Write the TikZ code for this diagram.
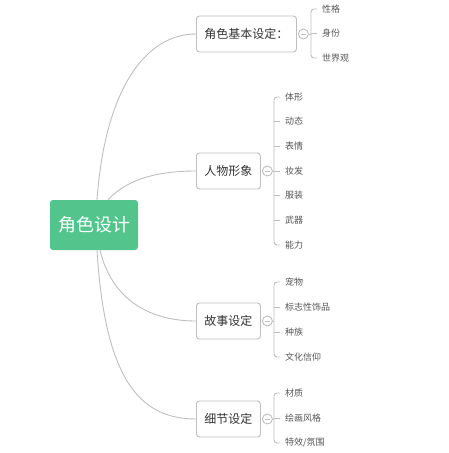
\documentclass[tikz,border=0pt]{standalone}
\usepackage{fontspec}
\setmainfont{Noto Sans CJK SC}
\usetikzlibrary{positioning}
\definecolor{rootgreen}{HTML}{52C48C}
\definecolor{linegray}{HTML}{BEBEBE}
\definecolor{textgray}{HTML}{333333}
\definecolor{leafgray}{HTML}{555555}
\tikzset{
	root/.style={fill=rootgreen, rounded corners=3pt, text=white, minimum width=88pt, minimum height=50pt, font=\fontsize{18}{18}\selectfont},
	branch/.style={draw=linegray, line width=0.9pt, rounded corners=3pt, fill=white, text=textgray, minimum height=36pt, inner xsep=8pt, anchor=west, font=\fontsize{12}{12}\selectfont},
	leaf/.style={text=leafgray, anchor=west, inner xsep=5pt, inner ysep=1pt, font=\fontsize{9}{9}\selectfont},
	link/.style={draw=linegray, line width=0.9pt},
	toggle/.style={circle, draw=linegray, line width=0.9pt, minimum size=10pt, inner sep=0pt, fill=white}
}
\begin{document}
\begin{tikzpicture}[x=1pt, y=-1pt]
	\useasboundingbox (0,0) rectangle (449,453);
	
	\node[root] (root) at (94,225) {角色设计};
	
	% Branches
	\node[branch] (b1) at (196,34) {角色基本设定：};
	\node[branch] (b2) at (196,171) {人物形象};
	\node[branch] (b3) at (196,321) {故事设定};
	\node[branch] (b4) at (196,419) {细节设定};
	
	\draw[link] ([xshift=3pt]root.north) .. controls (105,90) and (145,34) .. (b1.west);
	\draw[link] ([xshift=14pt]root.north) .. controls (128,178) and (160,171) .. (b2.west);
	\draw[link] ([xshift=6pt]root.south) .. controls (112,300) and (150,321) .. (b3.west);
	\draw[link] ([xshift=3pt]root.south) .. controls (105,380) and (140,419) .. (b4.west);
	
	% Toggles
	\foreach \b in {1,2,3,4} {
		\node[toggle] (t\b) at ([xshift=6.5pt]b\b.east) {};
		\draw[linegray, line width=0.8pt] ([xshift=-2.8pt]t\b.center) -- ([xshift=2.8pt]t\b.center);
	}
	
	% Leaves
	\foreach \txt/\y [count=\i] in {性格/9, 身份/33.5, 世界观/58}
		\node[leaf] (a\i) at (317,\y) {\txt};
	\foreach \txt/\y [count=\i] in {体形/97, 动态/121.5, 表情/146, 妆发/171, 服装/195.5, 武器/220, 能力/245}
		\node[leaf] (p\i) at (280,\y) {\txt};
	\foreach \txt/\y [count=\i] in {宠物/282, 标志性饰品/307, 种族/332, 文化信仰/357}
		\node[leaf] (s\i) at (280,\y) {\txt};
	\foreach \txt/\y [count=\i] in {材质/393, 绘画风格/418, {特效/氛围}/443}
		\node[leaf] (d\i) at (280,\y) {\txt};
	
	% Brackets
	\coordinate (k1) at (311,0);
	\coordinate (k2) at (274,0);
	\draw[link, rounded corners=3pt] (a1.west) -| (k1 |- a3.west) -- (a3.west);
	\draw[link] (k1 |- a2.west) -- (a2.west);
	\draw[link] (t1) -- (k1 |- t1);
	
	\draw[link, rounded corners=3pt] (p1.west) -| (k2 |- p7.west) -- (p7.west);
	\foreach \i in {2,...,6}
		\draw[link] (k2 |- p\i.west) -- (p\i.west);
	\draw[link] (t2) -- (k2 |- t2);
	
	\draw[link, rounded corners=3pt] (s1.west) -| (k2 |- s4.west) -- (s4.west);
	\foreach \i in {2,3}
		\draw[link] (k2 |- s\i.west) -- (s\i.west);
	\draw[link] (t3) -- (k2 |- t3);
	
	\draw[link, rounded corners=3pt] (d1.west) -| (k2 |- d3.west) -- (d3.west);
	\draw[link] (k2 |- d2.west) -- (d2.west);
	\draw[link] (t4) -- (k2 |- t4);
\end{tikzpicture}
\end{document}
